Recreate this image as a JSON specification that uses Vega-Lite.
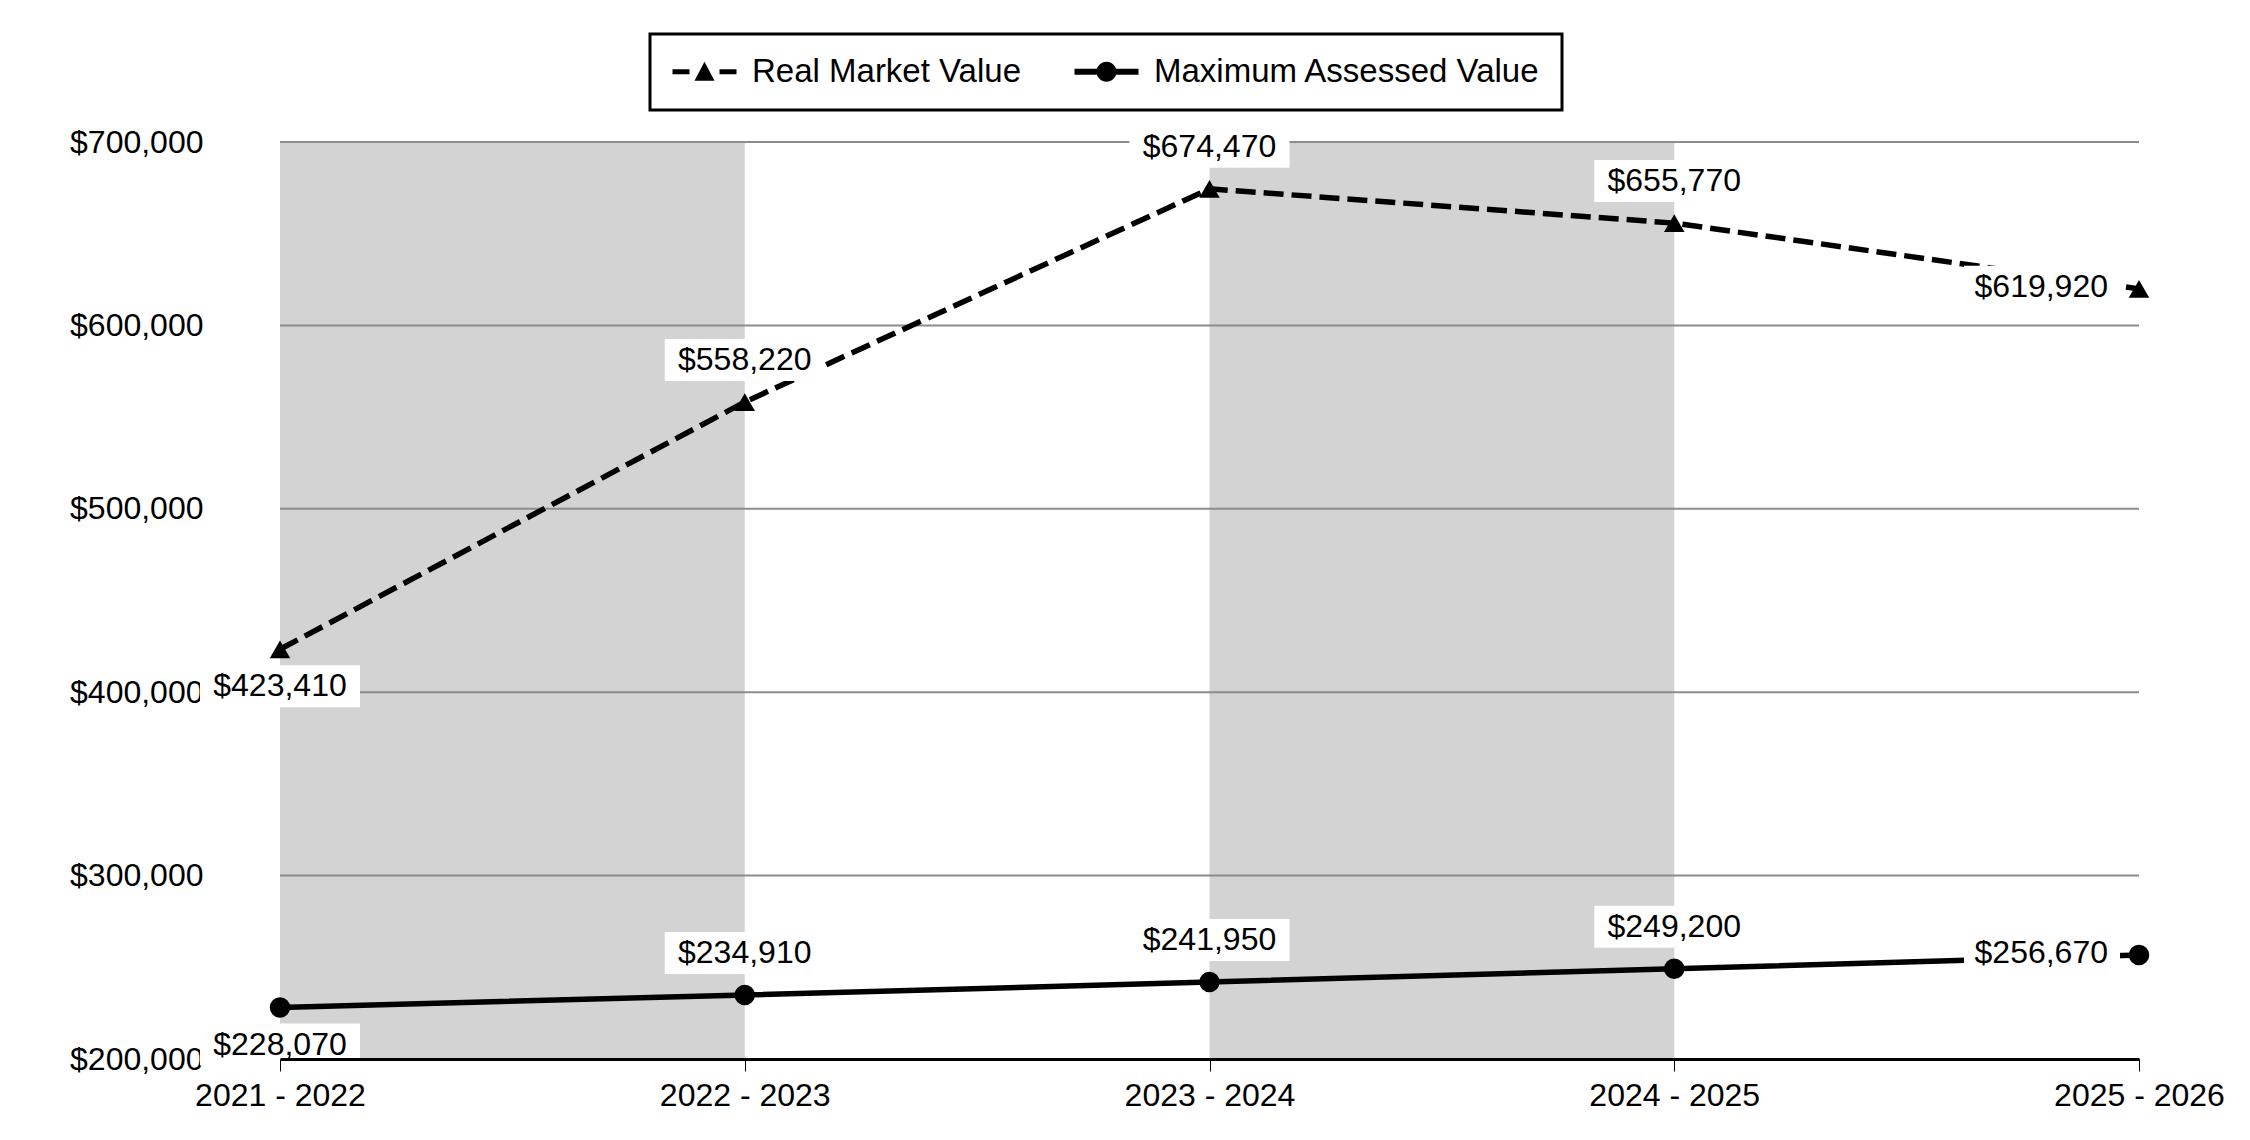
{
  "$schema": "https://vega.github.io/schema/vega-lite/v6.json",
  "width": 1859,
  "height": 917,
  "autosize": {"type": "none"},
  "padding": {"left": 280, "top": 142, "right": 111, "bottom": 81},
  "background": "white",
  "config": {
    "view": {"stroke": null},
    "font": "Liberation Sans",
    "legend": {"strokeWidth": 3},
    "axisX": {"domainColor": "black", "domainWidth": 3, "tickColor": "black", "tickWidth": 1, "tickSize": 12, "labelFontSize": 32, "labelColor": "black", "labelPadding": 9, "grid": false, "labelAngle": 0, "labelFont": "Liberation Sans", "labelOverlap": false},
    "axisY": {"domain": false, "ticks": false, "tickSize": 0, "grid": false, "labelFontSize": 32, "labelColor": "black", "labelPadding": 77, "labelFont": "Liberation Sans"}
  },
  "datasets": {
    "values": [
      {"year": "2021 - 2022", "series": "Real Market Value", "value": 423410},
      {"year": "2022 - 2023", "series": "Real Market Value", "value": 558220},
      {"year": "2023 - 2024", "series": "Real Market Value", "value": 674470},
      {"year": "2024 - 2025", "series": "Real Market Value", "value": 655770},
      {"year": "2025 - 2026", "series": "Real Market Value", "value": 619920},
      {"year": "2021 - 2022", "series": "Maximum Assessed Value", "value": 228070},
      {"year": "2022 - 2023", "series": "Maximum Assessed Value", "value": 234910},
      {"year": "2023 - 2024", "series": "Maximum Assessed Value", "value": 241950},
      {"year": "2024 - 2025", "series": "Maximum Assessed Value", "value": 249200},
      {"year": "2025 - 2026", "series": "Maximum Assessed Value", "value": 256670}
    ],
    "bands": [
      {"from": "2021 - 2022", "to": "2022 - 2023"},
      {"from": "2023 - 2024", "to": "2024 - 2025"}
    ],
    "grid": [{"v": 300000}, {"v": 400000}, {"v": 500000}, {"v": 600000}, {"v": 700000}]
  },
  "layer": [
    {
      "data": {"name": "bands"},
      "mark": {"type": "rect", "color": "#d3d3d3"},
      "encoding": {
        "x": {"field": "from", "type": "ordinal", "title": null, "scale": {"type": "point", "padding": 0, "domain": ["2021 - 2022", "2022 - 2023", "2023 - 2024", "2024 - 2025", "2025 - 2026"]}},
        "x2": {"field": "to"},
        "y": {"datum": 700000, "type": "quantitative", "title": null, "scale": {"domain": [200000, 700000], "nice": false, "zero": false}, "axis": {"format": "$,d", "values": [200000, 300000, 400000, 500000, 600000, 700000]}},
        "y2": {"datum": 200000}
      }
    },
    {
      "data": {"name": "grid"},
      "mark": {"type": "rule", "color": "#8c8c8c", "strokeWidth": 2},
      "encoding": {
        "y": {"field": "v", "type": "quantitative", "title": null}
      }
    },
    {
      "data": {"name": "values"},
      "transform": [{"filter": "datum.series === 'Real Market Value'"}],
      "mark": {"type": "line", "color": "black", "strokeWidth": 5.5, "strokeDash": [20, 8], "strokeCap": "butt"},
      "encoding": {
        "x": {"field": "year", "type": "ordinal", "title": null},
        "y": {"field": "value", "type": "quantitative", "title": null}
      }
    },
    {
      "data": {"name": "values"},
      "transform": [{"filter": "datum.series === 'Maximum Assessed Value'"}],
      "mark": {"type": "line", "color": "black", "strokeWidth": 5.5},
      "encoding": {
        "x": {"field": "year", "type": "ordinal", "title": null},
        "y": {"field": "value", "type": "quantitative", "title": null}
      }
    },
    {
      "data": {"name": "values"},
      "transform": [{"filter": "datum.year !== '2021 - 2022' && datum.year !== '2025 - 2026'"}],
      "mark": {"type": "rect", "color": "white", "xOffset": -80, "x2Offset": 80, "yOffset": -63, "y2Offset": -21},
      "encoding": {
        "x": {"field": "year", "type": "ordinal", "title": null},
        "x2": {"field": "year"},
        "y": {"field": "value", "type": "quantitative", "title": null},
        "y2": {"field": "value"}
      }
    },
    {
      "data": {"name": "values"},
      "transform": [{"filter": "datum.year === '2021 - 2022'"}],
      "mark": {"type": "rect", "color": "white", "xOffset": -80, "x2Offset": 80, "yOffset": 16, "y2Offset": 58},
      "encoding": {
        "x": {"field": "year", "type": "ordinal", "title": null},
        "x2": {"field": "year"},
        "y": {"field": "value", "type": "quantitative", "title": null},
        "y2": {"field": "value"}
      }
    },
    {
      "data": {"name": "values"},
      "transform": [{"filter": "datum.year === '2025 - 2026'"}],
      "mark": {"type": "rect", "color": "white", "xOffset": -175, "x2Offset": -19, "yOffset": -23, "y2Offset": 19},
      "encoding": {
        "x": {"field": "year", "type": "ordinal", "title": null},
        "x2": {"field": "year"},
        "y": {"field": "value", "type": "quantitative", "title": null},
        "y2": {"field": "value"}
      }
    },
    {
      "data": {"name": "values"},
      "transform": [{"filter": "datum.series === 'Real Market Value'"}],
      "mark": {"type": "point", "shape": "triangle-up", "filled": true, "size": 420, "color": "black", "opacity": 1, "strokeWidth": 0},
      "encoding": {
        "x": {"field": "year", "type": "ordinal", "title": null},
        "y": {"field": "value", "type": "quantitative", "title": null}
      }
    },
    {
      "data": {"name": "values"},
      "transform": [{"filter": "datum.series === 'Maximum Assessed Value'"}],
      "mark": {"type": "point", "shape": "circle", "filled": true, "size": 420, "color": "black", "opacity": 1, "strokeWidth": 0},
      "encoding": {
        "x": {"field": "year", "type": "ordinal", "title": null},
        "y": {"field": "value", "type": "quantitative", "title": null}
      }
    },
    {
      "data": {"name": "values"},
      "mark": {"type": "point", "filled": true, "size": 0, "color": "black", "strokeWidth": 0},
      "encoding": {
        "x": {"field": "year", "type": "ordinal", "title": null},
        "y": {"field": "value", "type": "quantitative", "title": null},
        "shape": {
          "field": "series",
          "type": "nominal",
          "scale": {
            "domain": ["Real Market Value", "Maximum Assessed Value"],
            "range": [
              "M-1.875,-0.3125H0.25V0.3125H-1.875Z M0.875,1.125L2.125,-1.25L3.375,1.125Z M4,-0.3125H6.125V0.3125H4Z",
              "M-1.875,-0.375H0.95V0.375H-1.875Z M0.875,0A1.25,1.25 0 1,1 3.375,0A1.25,1.25 0 1,1 0.875,0Z M3.3,-0.375H6.125V0.375H3.3Z"
            ]
          },
          "legend": {
            "title": null,
            "orient": "none",
            "legendX": 370,
            "legendY": -108,
            "direction": "horizontal",
            "padding": 21,
            "strokeColor": "black",
            "fillColor": "white",
            "symbolSize": 256,
            "symbolFillColor": "black",
            "symbolStrokeWidth": 0,
            "symbolOpacity": 1,
            "labelFontSize": 33,
            "labelFont": "Liberation Sans",
            "labelColor": "black",
            "labelLimit": 1000,
            "labelOffset": 48,
            "columnPadding": 51
          }
        }
      }
    },
    {
      "data": {"name": "values"},
      "transform": [{"filter": "datum.year !== '2021 - 2022' && datum.year !== '2025 - 2026'"}],
      "mark": {"type": "text", "fontSize": 32, "font": "Liberation Sans", "color": "black", "align": "center", "baseline": "middle", "dy": -42},
      "encoding": {
        "x": {"field": "year", "type": "ordinal", "title": null},
        "y": {"field": "value", "type": "quantitative", "title": null},
        "text": {"field": "value", "type": "quantitative", "format": "$,d"}
      }
    },
    {
      "data": {"name": "values"},
      "transform": [{"filter": "datum.year === '2021 - 2022'"}],
      "mark": {"type": "text", "fontSize": 32, "font": "Liberation Sans", "color": "black", "align": "center", "baseline": "middle", "dy": 37},
      "encoding": {
        "x": {"field": "year", "type": "ordinal", "title": null},
        "y": {"field": "value", "type": "quantitative", "title": null},
        "text": {"field": "value", "type": "quantitative", "format": "$,d"}
      }
    },
    {
      "data": {"name": "values"},
      "transform": [{"filter": "datum.year === '2025 - 2026'"}],
      "mark": {"type": "text", "fontSize": 32, "font": "Liberation Sans", "color": "black", "align": "right", "baseline": "middle", "dx": -31, "dy": -2},
      "encoding": {
        "x": {"field": "year", "type": "ordinal", "title": null},
        "y": {"field": "value", "type": "quantitative", "title": null},
        "text": {"field": "value", "type": "quantitative", "format": "$,d"}
      }
    }
  ]
}
